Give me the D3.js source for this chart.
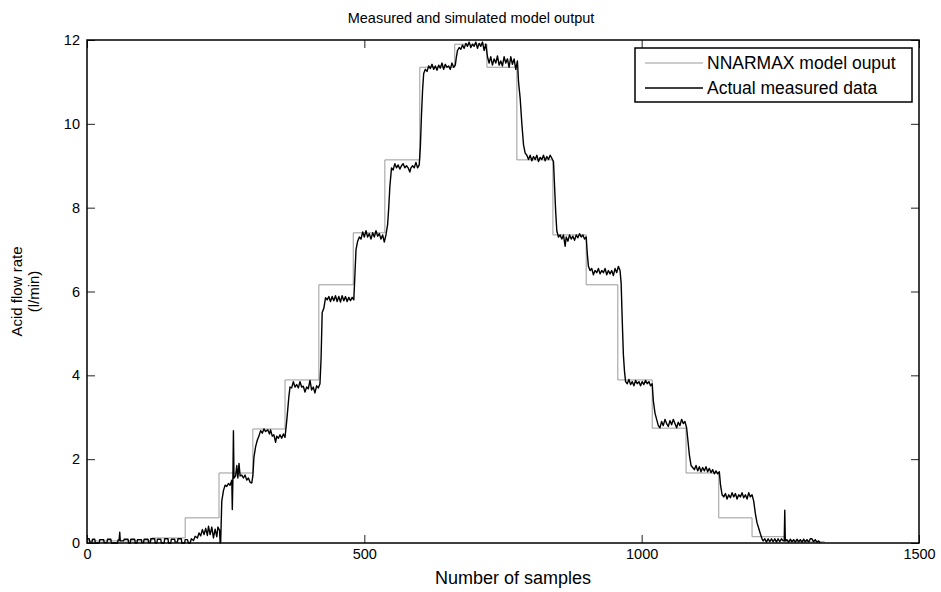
<!DOCTYPE html>
<html lang="en">
<head>
<meta charset="UTF-8">
<script src="https://cdn.jsdelivr.net/npm/d3@7"></script>
<title>Measured and simulated model output</title>
<style>
	body { margin: 0; background: #fff; }
	svg { display: block; font-family: "Liberation Sans", Arial, sans-serif; }
	.tick line { stroke: #222; }
</style>
</head>
<body>
<div id="chart"></div>
<script>
// x ticks / y ticks
const xTicks = [0, 500, 1000, 1500];
const yTicks = [0, 2, 4, 6, 8, 10, 12];

// NNARMAX model output: [sample where step starts, level]
const modelSteps = [
	[0, 0.05], [117, 0.12], [177, 0.6], [238, 1.67], [299, 2.72], [357, 3.89],
	[418, 6.16], [480, 7.4], [537, 9.14], [600, 11.35], [663, 11.9], [721, 11.35],
	[775, 9.14], [840, 7.35], [900, 6.16], [957, 3.89], [1019, 2.74], [1080, 1.67],
	[1139, 0.6], [1199, 0.15], [1258, 0.03], [1330, 0.03]
];

const measured = [
	[0,0.1],[4,0.1],[5,0.02],[9,0.02],[10,0.09],[14,0.09],[15,0],[22,0],[23,0.08],[30,0.08],[31,0.01],[36,0.01],
	[37,0.09],[43,0.09],[44,0],[55,0],[56,0.07],[58,0.07],[59,0.26],[60,0.05],[66,0.05],[67,0.09],[74,0.09],[75,0],
	[78,0],[79,0.09],[86,0.09],[87,0],[90,0],[91,0.08],[98,0.08],[99,0.01],[102,0.01],[103,0.09],[110,0.09],[111,0.01],
	[114,0.01],[115,0.1],[122,0.1],[123,0],[126,0],[127,0.09],[133,0.09],[134,0],[139,0],[140,0.1],[146,0.1],[147,0],
	[151,0],[152,0.09],[158,0.09],[159,0.02],[163,0.02],[164,0.1],[170,0.1],[171,0],[176,0],[177,0.08],[181,0.08],[183,0],
	[186,0],[188,0.1],[192,0.06],[195,0.16],[199,0.12],[202,0.24],[205,0.17],[208,0.32],[211,0.2],[214,0.35],[217,0.18],
	[219,0.4],[222,0.2],[225,0.38],[228,0.12],[231,0.33],[234,0.15],[236,0.38],[239,0.3],[240,0],[241,0.02],[243,1.0],
	[246,1.25],[249,1.38],[252,1.35],[255,1.42],[258,1.38],[261,1.5],[262,0.8],[263,1.5],[264,2.68],[265,1.55],[268,1.6],
	[270,1.85],[272,1.55],[274,1.9],[276,1.6],[279,1.62],[282,1.55],[285,1.62],[288,1.5],[291,1.55],[294,1.45],[297,1.43],
	[299,1.6],[301,2.05],[304,2.3],[307,2.45],[310,2.55],[313,2.68],[316,2.62],[319,2.72],[322,2.66],[326,2.7],[329,2.6],
	[331,2.7],[334,2.55],[337,2.58],[340,2.4],[342,2.55],[345,2.5],[348,2.58],[351,2.5],[354,2.6],[357,2.52],[360,2.9],
	[362,3.2],[364,3.5],[366,3.72],[369,3.7],[372,3.85],[375,3.72],[378,3.78],[381,3.7],[384,3.85],[387,3.72],[390,3.74],
	[393,3.6],[396,3.72],[399,3.68],[402,3.88],[405,3.65],[408,3.72],[411,3.58],[414,3.75],[417,3.7],[420,3.8],[422,4.4],
	[424,5.5],[427,5.6],[430,5.85],[433,5.8],[436,5.88],[439,5.76],[442,5.88],[445,5.78],[448,5.9],[451,5.76],[454,5.88],
	[457,5.75],[460,5.9],[463,5.78],[466,5.88],[469,5.76],[472,5.86],[475,5.78],[478,5.86],[481,5.8],[483,6.4],[485,7.0],
	[488,7.2],[491,7.3],[494,7.25],[497,7.42],[500,7.3],[503,7.45],[506,7.3],[509,7.38],[512,7.25],[515,7.4],[518,7.3],
	[521,7.45],[524,7.32],[527,7.38],[530,7.25],[533,7.35],[536,7.18],[539,7.35],[542,7.6],[544,8.0],[546,8.5],[549,8.95],
	[552,8.9],[555,9.05],[558,8.95],[561,9.02],[564,8.92],[567,9.0],[570,9.05],[573,8.95],[576,9.0],[579,8.95],[582,8.85],
	[584,8.95],[587,9.0],[590,8.95],[593,9.08],[596,8.95],[599,9.02],[601,9.45],[603,10.2],[605,10.8],[607,11.2],[610,11.3],
	[613,11.25],[616,11.38],[619,11.32],[622,11.42],[625,11.3],[628,11.38],[631,11.28],[634,11.4],[637,11.33],[640,11.45],
	[643,11.3],[646,11.42],[649,11.35],[652,11.38],[655,11.3],[658,11.45],[661,11.35],[664,11.4],[666,11.6],[668,11.75],
	[671,11.82],[674,11.78],[677,11.88],[680,11.8],[683,11.92],[686,11.85],[689,11.95],[692,11.82],[695,11.9],[698,11.85],
	[701,11.95],[704,11.8],[707,11.92],[710,11.85],[713,11.95],[716,11.75],[719,11.9],[722,11.6],[725,11.45],[728,11.6],
	[731,11.4],[734,11.55],[737,11.45],[740,11.62],[743,11.4],[746,11.5],[749,11.38],[752,11.6],[755,11.45],[758,11.55],
	[761,11.35],[764,11.6],[767,11.42],[770,11.55],[773,11.3],[776,11.5],[778,11.0],[781,10.6],[784,10.0],[787,9.5],
	[790,9.3],[793,9.25],[796,9.15],[799,9.25],[802,9.12],[805,9.22],[808,9.15],[811,9.25],[814,9.1],[817,9.2],[820,9.15],
	[823,9.25],[826,9.12],[829,9.22],[832,9.15],[835,9.25],[838,9.18],[841,9.1],[843,8.5],[845,7.9],[847,7.45],[850,7.3],
	[853,7.35],[856,7.25],[859,7.35],[862,7.08],[864,7.3],[867,7.2],[870,7.35],[873,7.25],[876,7.32],[879,7.22],[882,7.35],
	[885,7.28],[888,7.38],[891,7.3],[894,7.35],[897,7.25],[900,7.3],[902,6.9],[904,6.6],[907,6.5],[910,6.55],[913,6.4],
	[916,6.5],[919,6.45],[922,6.55],[925,6.42],[928,6.5],[931,6.45],[934,6.55],[937,6.4],[940,6.5],[943,6.42],[946,6.5],
	[949,6.38],[952,6.55],[955,6.45],[958,6.6],[961,6.5],[963,6.2],[965,5.3],[967,4.5],[969,4.1],[971,3.85],[974,3.8],
	[977,3.9],[980,3.78],[983,3.85],[986,3.75],[989,3.88],[992,3.8],[995,3.85],[998,3.75],[1001,3.85],[1004,3.78],[1007,3.88],
	[1010,3.8],[1013,3.85],[1016,3.75],[1019,3.8],[1021,3.4],[1024,3.1],[1027,2.95],[1030,2.8],[1033,2.75],[1036,2.9],
	[1039,2.8],[1042,2.95],[1045,2.85],[1048,2.78],[1051,2.92],[1054,2.82],[1057,2.95],[1060,2.85],[1063,2.75],[1066,2.88],
	[1069,2.8],[1072,2.95],[1075,2.85],[1078,2.9],[1081,2.75],[1083,2.5],[1086,2.1],[1089,1.85],[1092,1.8],[1095,1.75],
	[1098,1.85],[1101,1.72],[1104,1.82],[1107,1.7],[1110,1.8],[1113,1.72],[1116,1.82],[1119,1.7],[1122,1.78],[1125,1.68],
	[1128,1.75],[1131,1.65],[1134,1.72],[1137,1.65],[1140,1.7],[1142,1.4],[1145,1.15],[1148,1.1],[1151,1.18],[1154,1.05],
	[1157,1.15],[1160,1.08],[1163,1.2],[1166,1.1],[1169,1.18],[1172,1.05],[1175,1.15],[1178,1.1],[1181,1.2],[1184,1.08],
	[1187,1.15],[1190,1.05],[1193,1.2],[1196,1.1],[1199,1.15],[1202,1.0],[1205,0.7],[1208,0.48],[1211,0.35],[1214,0.22],
	[1217,0.1],[1219,0.05],[1222,0.1],[1225,0.02],[1228,0.1],[1231,0.03],[1234,0.1],[1237,0.03],[1240,0.1],[1243,0.02],
	[1246,0.1],[1249,0.03],[1252,0.1],[1255,0.05],[1257,0.05],[1258,0.78],[1259,0.05],[1262,0.08],[1265,0.02],[1268,0.09],
	[1271,0.03],[1274,0.08],[1277,0.02],[1280,0.09],[1283,0.03],[1286,0.08],[1289,0.02],[1292,0.09],[1295,0.03],[1298,0.08],
	[1301,0.02],[1304,0.1],[1307,0.1],[1310,0.03],[1313,0.08],[1316,0.02],[1319,0.05],[1322,0]
];

const seriesNames = ['NNARMAX model ouput', 'Actual measured data'];

const width = 941, height = 592;
const margin = { top: 40, right: 22, bottom: 49, left: 87 };

const svg = d3.select('#chart').append('svg')
	.attr('width', width)
	.attr('height', height);

const x = d3.scaleLinear().domain([0, 1500]).range([margin.left, width - margin.right]);
const y = d3.scaleLinear().domain([0, 12]).range([height - margin.bottom, margin.top]);

// axes, ticks point inward like matlab
const styleTicks = g => {
	g.select('.domain').remove();
	g.selectAll('.tick text').style('font-size', '14.5px').attr('fill', '#000');
};
svg.append('g')
	.attr('transform', `translate(0,${height - margin.bottom})`)
	.call(d3.axisBottom(x).tickValues(xTicks).tickFormat(d3.format('d')).tickSizeInner(-8).tickSizeOuter(0).tickPadding(6))
	.call(styleTicks);
svg.append('g')
	.attr('transform', `translate(${margin.left},0)`)
	.call(d3.axisLeft(y).tickValues(yTicks).tickSizeInner(-8).tickSizeOuter(0).tickPadding(7))
	.call(styleTicks);
svg.append('g')
	.attr('transform', `translate(0,${margin.top})`)
	.call(d3.axisTop(x).tickValues(xTicks).tickSizeInner(-8).tickSizeOuter(0).tickFormat(''))
	.call(styleTicks);
svg.append('g')
	.attr('transform', `translate(${width - margin.right},0)`)
	.call(d3.axisRight(y).tickValues(yTicks).tickSizeInner(-8).tickSizeOuter(0).tickFormat(''))
	.call(styleTicks);

// lines
const modelLine = d3.line()
	.x(d => x(d[0]))
	.y(d => y(d[1]))
	.curve(d3.curveStepAfter);
const measLine = d3.line()
	.x(d => x(d[0]))
	.y(d => y(d[1]));

svg.append('path')
	.datum(modelSteps)
	.attr('fill', 'none')
	.attr('stroke', '#9a9a9a')
	.attr('stroke-width', 1)
	.attr('d', modelLine);

svg.append('path')
	.datum(measured)
	.attr('fill', 'none')
	.attr('stroke', '#000')
	.attr('stroke-width', 1.4)
	.attr('stroke-linejoin', 'round')
	.attr('d', measLine);

// frame
svg.append('rect')
	.attr('x', margin.left)
	.attr('y', margin.top)
	.attr('width', width - margin.left - margin.right)
	.attr('height', height - margin.top - margin.bottom)
	.attr('fill', 'none')
	.attr('stroke', '#000')
	.attr('stroke-width', 1.5);

// title + labels
svg.append('text')
	.attr('x', 471)
	.attr('y', 23)
	.attr('text-anchor', 'middle')
	.style('font-size', '14.5px')
	.text('Measured and simulated model output');

svg.append('text')
	.attr('x', 513)
	.attr('y', 584)
	.attr('text-anchor', 'middle')
	.style('font-size', '18px')
	.text('Number of samples');

const yLab = svg.append('text')
	.attr('transform', `translate(22,${(margin.top + height - margin.bottom) / 2}) rotate(-90)`)
	.attr('text-anchor', 'middle')
	.style('font-size', '15px');
yLab.append('tspan').attr('x', 0).attr('dy', 0).text('Acid flow rate');
yLab.append('tspan').attr('x', 0).attr('dy', '1.1em').text('(l/min)');

// legend
const legend = svg.append('g');
legend.append('rect')
	.attr('x', 635).attr('y', 48)
	.attr('width', 277).attr('height', 54)
	.attr('fill', '#fff')
	.attr('stroke', '#000')
	.attr('stroke-width', 1.5);

const legendStyles = [
	{ stroke: '#9a9a9a', width: 1 },
	{ stroke: '#000', width: 1.4 }
];
seriesNames.forEach((name, i) => {
	const ly = 63 + i * 25;
	legend.append('line')
		.attr('x1', 645).attr('x2', 703)
		.attr('y1', ly).attr('y2', ly)
		.attr('stroke', legendStyles[i].stroke)
		.attr('stroke-width', legendStyles[i].width);
	legend.append('text')
		.attr('x', 707)
		.attr('y', ly)
		.attr('dy', '0.36em')
		.style('font-size', '17.5px')
		.text(name);
});
</script>
</body>
</html>
